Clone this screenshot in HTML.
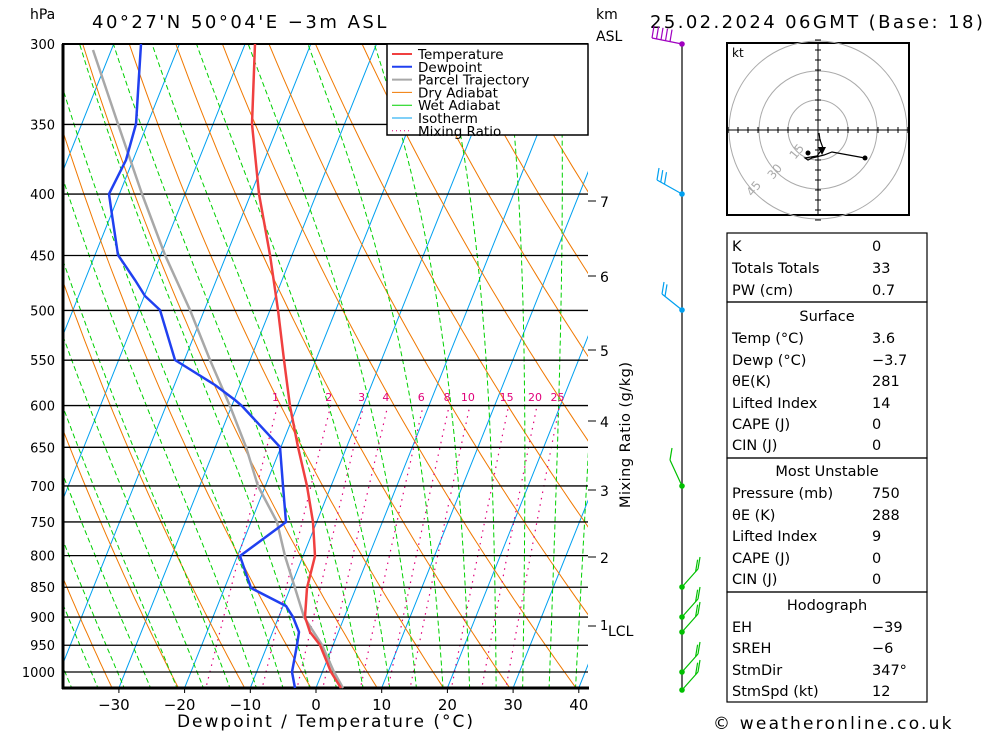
<!DOCTYPE html>
<html><head><meta charset="utf-8"><style>
body{margin:0;background:#fff;width:1000px;height:733px;overflow:hidden;font-family:"DejaVu Sans",sans-serif}
svg text{font-family:"DejaVu Sans",sans-serif}
</style></head><body>
<svg id="s" width="1000" height="733" xmlns="http://www.w3.org/2000/svg">
<defs><clipPath id="c"><rect x="63" y="44" width="525" height="644"/></clipPath></defs>
<g id="bg" clip-path="url(#c)"></g>
<g id="fg"></g>
</svg>
<script>
const NS="http://www.w3.org/2000/svg";
const bg=document.getElementById('bg'),fg=document.getElementById('fg');
function el(p,t,a,txt){const e=document.createElementNS(NS,t);for(const k in a)e.setAttribute(k,a[k]);if(txt!==undefined)e.textContent=txt;p.appendChild(e);return e;}
const Y=p=>672-521.6*Math.log(1000/p);
const X=(T,p)=>316+6.57*T+0.40*(688-Y(p));
function poly(par,pts,st){el(par,'polyline',Object.assign({points:pts.map(a=>a[0].toFixed(1)+','+a[1].toFixed(1)).join(' '),fill:'none'},st));}
for(let T=-120;T<=60;T+=10){poly(bg,[[X(T,1050),Y(1050)],[X(T,280),Y(280)]],{stroke:'#00a0f0','stroke-width':1});}
for(let th=230;th<=480;th+=10){const pts=[];for(let p=1050;p>=280;p-=10){pts.push([X(th*Math.pow(p/1000,0.286)-273.15,p),Y(p)]);}poly(bg,pts,{stroke:'#f07800','stroke-width':1});}
function es(T){return 6.112*Math.exp(17.67*T/(T+243.5));}
function ws(T,p){const e=es(T);return 0.622*e/(p-e);}
function dTdp(T,p){const Tk=T+273.15,w=ws(T,p),L=2.5e6,Rd=287,cp=1004,eps=0.622;
 return (Rd*Tk/p+L*w/p)/(cp+L*L*w*eps/(Rd*Tk*Tk));}
for(let T0=-40;T0<=44;T0+=4){let T=T0,pts=[];
 for(let p=1050;p>=280;p-=5){pts.push([X(T,p),Y(p)]);T-=dTdp(T,p)*5;}
 poly(bg,pts,{stroke:'#00d000','stroke-width':1,'stroke-dasharray':'5,3'});}
const mr=[1,2,3,4,6,8,10,15,20,25];
mr.forEach(w=>{const pts=[];for(let p=1050;p>=600;p-=10){const e=w/1000*p/(0.622+w/1000);const T=243.5*Math.log(e/6.112)/(17.67-Math.log(e/6.112));pts.push([X(T,p),Y(p)]);}
 poly(bg,pts,{stroke:'#e0007a','stroke-width':1.2,'stroke-dasharray':'1.5,5'});
 const e=w/1000*600/(0.622+w/1000),T=243.5*Math.log(e/6.112)/(17.67-Math.log(e/6.112));
 el(fg,'text',{x:X(T,600)-2,y:401,'font-size':11,fill:'#e0007a','text-anchor':'middle'},String(w));});
const P=[300,350,400,450,500,550,600,650,700,750,800,850,900,950,1000];
P.forEach(p=>{const y=Y(p);el(fg,'line',{x1:63,x2:588,y1:y,y2:y,stroke:'#000','stroke-width':1.3});el(fg,'text',{x:55,y:y+5,'font-size':13,'text-anchor':'end'},String(p));});
el(fg,'line',{x1:63,x2:63,y1:44,y2:689,stroke:'#000','stroke-width':3});
el(fg,'line',{x1:62,x2:589,y1:688,y2:688,stroke:'#000','stroke-width':3});
el(fg,'line',{x1:62,x2:588,y1:44,y2:44,stroke:'#000','stroke-width':2});
const parcel=[[93,50],[118,124],[142,194],[165,255],[190,310],[210,360],[230,406],[246,447],[258,486],[277,522],[285,556],[295,588],[304,617],[322,645],[334,672],[343,688]];
const temp=[[255,44],[252,124],[259,194],[270,255],[278,310],[284,360],[290,406],[298,447],[307,486],[313,522],[315,556],[307,588],[305,617],[310,632],[320,645],[331,672],[341,688]];
const dew=[[141,44],[136,124],[126,160],[109,194],[112,215],[118,255],[135,280],[145,296],[160,310],[175,360],[215,385],[235,400],[242,406],[280,447],[283,486],[286,522],[240,556],[251,588],[286,606],[293,617],[299,632],[297,645],[292,672],[295,688]];
poly(fg,parcel,{stroke:'#a8a8a8','stroke-width':2.5});
poly(fg,temp,{stroke:'#f04040','stroke-width':2.5});
poly(fg,dew,{stroke:'#2040f0','stroke-width':2.5});
el(fg,'rect',{x:387,y:44,width:201,height:91,fill:'#fff',stroke:'#000','stroke-width':1.5});
const leg=[['Temperature','#f04040',''],['Dewpoint','#2040f0',''],['Parcel Trajectory','#a8a8a8',''],['Dry Adiabat','#f07800',''],['Wet Adiabat','#00d000',''],['Isotherm','#00a0f0',''],['Mixing Ratio','#e0007a','1,3']];
leg.forEach((l,i)=>{const y=54+i*12.8;el(fg,'line',{x1:392,x2:412,y1:y,y2:y,stroke:l[1],'stroke-width':i<3?2:1,'stroke-dasharray':l[2]});el(fg,'text',{x:418,y:y+5,'font-size':13.5},l[0]);});
[-30,-20,-10,0,10,20,30,40].forEach(t=>{const x=316+6.57*t;el(fg,'line',{x1:x,x2:x,y1:688,y2:693,stroke:'#000'});el(fg,'text',{x:x-(t<0?5:0),y:710,'font-size':15,'text-anchor':'middle'},t<0?'\u2212'+(-t):String(t));});
el(fg,'text',{x:326,y:727,'font-size':17,'text-anchor':'middle','letter-spacing':'2'},'Dewpoint / Temperature (°C)');
el(fg,'text',{x:30,y:19,'font-size':14},'hPa');
el(fg,'text',{x:92,y:28,'font-size':18,'letter-spacing':'2.5'},"40°27'N  50°04'E  −3m  ASL");
el(fg,'text',{x:596,y:19,'font-size':14},'km');
el(fg,'text',{x:596,y:41,'font-size':14},'ASL');
el(fg,'text',{x:650,y:28,'font-size':18,'letter-spacing':'2.4'},'25.02.2024  06GMT  (Base: 18)');
[[7,201],[6,276],[5,350],[4,421],[3,490],[2,557]].forEach(k=>{el(fg,'line',{x1:588,x2:596,y1:k[1],y2:k[1],stroke:'#000'});el(fg,'text',{x:600,y:k[1]+6,'font-size':14},String(k[0]));});
el(fg,'line',{x1:588,x2:596,y1:626,y2:626,stroke:'#000'});
el(fg,'text',{x:600,y:630,'font-size':13},'1');
el(fg,'text',{x:608,y:636,'font-size':14},'LCL');
el(fg,'text',{x:0,y:0,'font-size':14.5,transform:'translate(630,508) rotate(-90)','letter-spacing':'0.5'},'Mixing Ratio (g/kg)');
el(fg,'line',{x1:682,x2:682,y1:44,y2:690,stroke:'#000','stroke-width':1.2});
function barb(y,col,dx,dy,n){el(fg,'line',{x1:682,y1:y,x2:682+dx,y2:y+dy,stroke:col,'stroke-width':1.2});
 for(let i=0;i<n;i++){const bx=682+dx*(1-i*0.15),by=y+dy*(1-i*0.15);el(fg,'line',{x1:bx,y1:by,x2:bx+2,y2:by-12,stroke:col,'stroke-width':1.2});}
 el(fg,'circle',{cx:682,cy:y,r:2.8,fill:col});}
barb(44,'#a000c0',-30,-6,5);
barb(194,'#00a0f0',-25,-14,3);
barb(310,'#00a0f0',-20,-16,2);
barb(486,'#00c000',-12,-26,1);
[587,617,632,672,690].forEach(y=>barb(y,'#00c000',16,-18,2));
const hx=818,hy=130;
el(fg,'rect',{x:727,y:43,width:182,height:172,fill:'#fff',stroke:'#000','stroke-width':2});
[30,59,89].forEach(r=>el(fg,'circle',{cx:hx,cy:hy,r:r,fill:'none',stroke:'#aaa'}));
el(fg,'line',{x1:728,x2:908,y1:hy,y2:hy,stroke:'#000'});el(fg,'line',{x1:hx,x2:hx,y1:44,y2:214,stroke:'#000'});
for(let i=-9;i<=9;i++){if(i==0)continue;el(fg,'line',{x1:hx+i*10,x2:hx+i*10,y1:hy-3,y2:hy+3,stroke:'#000'});el(fg,'line',{x1:hx-3,x2:hx+3,y1:hy+i*10,y2:hy+i*10,stroke:'#000'});}
el(fg,'text',{x:732,y:57,'font-size':12},'kt');
el(fg,'text',{x:0,y:0,'font-size':12,fill:'#aaa',transform:'translate(795,160) rotate(-50)'},'15');
el(fg,'text',{x:0,y:0,'font-size':12,fill:'#aaa',transform:'translate(773,180) rotate(-50)'},'30');
el(fg,'text',{x:0,y:0,'font-size':12,fill:'#aaa',transform:'translate(752,197) rotate(-50)'},'45');
poly(fg,[[865,158],[832,152],[824,155],[812,158],[808,160],[805,158],[817,156],[823,148],[820,140],[819,133]],{stroke:'#000','stroke-width':1.2});
el(fg,'circle',{cx:865,cy:158,r:2.5});el(fg,'circle',{cx:808,cy:153,r:2.5});
el(fg,'polygon',{points:'818,147 826,147 822,155'});
function box(y1,y2){el(fg,'rect',{x:727,y:y1,width:200,height:y2-y1,fill:'none',stroke:'#000','stroke-width':1.2});}
box(233,302);box(302,458);box(458,592);box(592,702);
function row(y,a,b){el(fg,'text',{x:732,y:y+5,'font-size':14.5},a);el(fg,'text',{x:872,y:y+5,'font-size':14.5},b);}
function hd(y,a){el(fg,'text',{x:827,y:y+5,'font-size':14.5,'text-anchor':'middle'},a);}
row(246,'K','0');row(268,'Totals Totals','33');row(290,'PW (cm)','0.7');
hd(316,'Surface');row(338,'Temp (°C)','3.6');row(360,'Dewp (°C)','−3.7');row(381,'θE(K)','281');row(403,'Lifted Index','14');row(424,'CAPE (J)','0');row(445,'CIN (J)','0');
hd(471,'Most Unstable');row(493,'Pressure (mb)','750');row(515,'θE (K)','288');row(536,'Lifted Index','9');row(558,'CAPE (J)','0');row(579,'CIN (J)','0');
hd(605,'Hodograph');row(627,'EH','−39');row(648,'SREH','−6');row(670,'StmDir','347°');row(691,'StmSpd (kt)','12');
el(fg,'text',{x:713,y:729,'font-size':17,'letter-spacing':'2.2'},'© weatheronline.co.uk');
</script>
</body></html>
